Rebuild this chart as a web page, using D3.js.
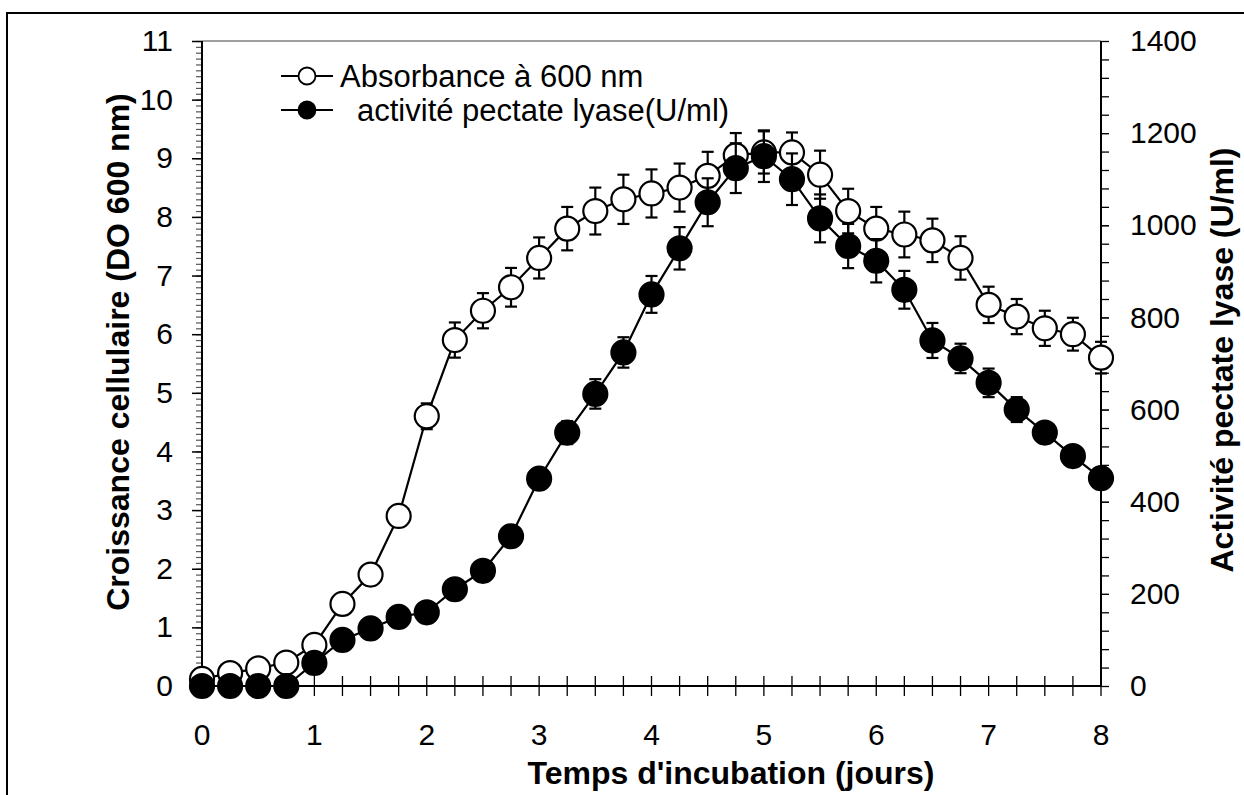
<!DOCTYPE html>
<html>
<head>
<meta charset="utf-8">
<script src="https://cdn.jsdelivr.net/npm/d3@7"></script>
<style>
  body { margin: 0; background: #fff; }
  svg { display: block; font-family: "Liberation Sans", Arial, sans-serif; }
</style>
</head>
<body>
<svg width="1244" height="795"></svg>
<script>
// temps d'incubation (jours), un point toutes les 6 h
const DAYS = [0, 0.25, 0.5, 0.75, 1, 1.25, 1.5, 1.75, 2, 2.25, 2.5, 2.75, 3, 3.25, 3.5, 3.75,
              4, 4.25, 4.5, 4.75, 5, 5.25, 5.5, 5.75, 6, 6.25, 6.5, 6.75, 7, 7.25, 7.5, 7.75, 8];

// absorbance a 600 nm (axe gauche)
const ABSORBANCE = [0.12, 0.22, 0.3, 0.4, 0.7, 1.4, 1.9, 2.9, 4.6, 5.9, 6.4, 6.8, 7.3, 7.8, 8.1, 8.3,
                    8.4, 8.5, 8.7, 9.05, 9.1, 9.1, 8.72, 8.1, 7.8, 7.7, 7.6, 7.3, 6.5, 6.3, 6.1, 6.0, 5.6];
const ABS_ERR = [0.05, 0.05, 0.05, 0.05, 0.08, 0.1, 0.12, 0.15, 0.22, 0.3, 0.3, 0.33, 0.35, 0.37, 0.4, 0.42,
                 0.41, 0.41, 0.41, 0.38, 0.36, 0.34, 0.41, 0.38, 0.37, 0.39, 0.37, 0.37, 0.31, 0.3, 0.3, 0.28, 0.27];

// activite pectate lyase U/ml (axe droit)
const ACTIVITY = [0, 0, 0, 0, 50, 100, 125, 150, 160, 210, 250, 325, 450, 550, 634, 724,
                  850, 950, 1050, 1124, 1150, 1100, 1015, 955, 923, 860, 750, 711, 658, 600, 550, 499, 451];
const ACT_ERR = [0, 0, 0, 0, 8, 10, 12, 12, 12, 15, 15, 18, 20, 25, 32, 33,
                 40, 46, 52, 54, 56, 56, 52, 48, 47, 41, 38, 32, 31, 27, 22, 20, 18];

const X_TICKS = [0, 1, 2, 3, 4, 5, 6, 7, 8];
const YL_TICKS = [0, 1, 2, 3, 4, 5, 6, 7, 8, 9, 10, 11];
const YR_TICKS = [0, 200, 400, 600, 800, 1000, 1200, 1400];

const LEFT = 202, RIGHT = 1101, TOP = 41, BOTTOM = 686;
const FONT = '"Liberation Sans", Arial, sans-serif';
const TICK_FONT = 30;

const svg = d3.select('svg');

const x = d3.scaleLinear().domain([0, 8]).range([LEFT, RIGHT]);
const yL = d3.scaleLinear().domain([0, 11]).range([BOTTOM, TOP]);
const yR = d3.scaleLinear().domain([0, 1400]).range([BOTTOM, TOP]);

// cadre exterieur
svg.append('rect')
    .attr('x', 7).attr('y', 13)
    .attr('width', 1250).attr('height', 800)
    .attr('fill', 'none')
    .attr('stroke', '#000')
    .attr('stroke-width', 2);

// bord haut de la zone de trace
svg.append('line')
    .attr('x1', LEFT).attr('x2', RIGHT)
    .attr('y1', TOP).attr('y2', TOP)
    .attr('stroke', '#808080')
    .attr('stroke-width', 1.5);

// axe gauche : graduations mineures tous les 0.1
const leftAxis = svg.append('g').attr('transform', `translate(${LEFT},0)`);
leftAxis.call(d3.axisLeft(yL).ticks(110).tickSize(6).tickFormat(''))
    .call(g => g.select('.domain').remove())
    .selectAll('line').attr('stroke', '#555').attr('stroke-width', 1.2);
leftAxis.append('g')
    .call(d3.axisLeft(yL).tickValues(YL_TICKS).tickSize(10).tickPadding(19))
    .call(g => g.select('.domain').remove())
    .call(g => g.selectAll('line').attr('stroke', '#000').attr('stroke-width', 1.5))
    .call(g => g.selectAll('text')
        .attr('font-size', TICK_FONT).attr('font-family', FONT).attr('fill', '#000'));
leftAxis.append('line')
    .attr('y1', TOP).attr('y2', BOTTOM)
    .attr('stroke', '#000').attr('stroke-width', 2);

// axe droit : graduations tous les 40
const rightAxis = svg.append('g').attr('transform', `translate(${RIGHT},0)`);
rightAxis.call(d3.axisRight(yR).tickValues(d3.range(0, 1401, 40)).tickSize(8).tickFormat(''))
    .call(g => g.select('.domain').remove())
    .selectAll('line').attr('stroke', '#000').attr('stroke-width', 1.3);
rightAxis.append('g')
    .call(d3.axisRight(yR).tickValues(YR_TICKS).tickSize(8).tickPadding(21).tickFormat(d3.format('d')))
    .call(g => g.select('.domain').remove())
    .call(g => g.selectAll('text')
        .attr('font-size', TICK_FONT).attr('font-family', FONT).attr('fill', '#000'));
rightAxis.append('line')
    .attr('y1', TOP).attr('y2', BOTTOM)
    .attr('stroke', '#000').attr('stroke-width', 2);

// axe du bas : graduations croisees tous les 0.25
const bottomAxis = svg.append('g').attr('transform', `translate(0,${BOTTOM})`);
bottomAxis.selectAll('.xtick')
    .data(d3.range(0, 8.01, 0.25))
    .enter()
    .append('line')
    .classed('xtick', true)
    .attr('x1', d => x(d)).attr('x2', d => x(d))
    .attr('y1', -10).attr('y2', 10)
    .attr('stroke', '#000').attr('stroke-width', 1.3);
bottomAxis.append('line')
    .attr('x1', LEFT).attr('x2', RIGHT)
    .attr('stroke', '#000').attr('stroke-width', 2);
bottomAxis.selectAll('.xlabel')
    .data(X_TICKS)
    .enter()
    .append('text')
    .classed('xlabel', true)
    .attr('x', d => x(d))
    .attr('y', 59)
    .attr('text-anchor', 'middle')
    .attr('font-size', TICK_FONT)
    .text(d => d);

// titres des axes
svg.append('text')
    .attr('x', 731).attr('y', 784)
    .attr('text-anchor', 'middle')
    .attr('font-size', 32).attr('font-weight', 'bold')
    .text("Temps d'incubation (jours)");

svg.append('text')
    .attr('transform', 'translate(129,352) rotate(-90)')
    .attr('text-anchor', 'middle')
    .attr('font-size', 32).attr('font-weight', 'bold')
    .text('Croissance cellulaire (DO 600 nm)');

svg.append('text')
    .attr('transform', 'translate(1233,360) rotate(-90)')
    .attr('text-anchor', 'middle')
    .attr('font-size', 32).attr('font-weight', 'bold')
    .text('Activité pectate lyase (U/ml)');

// series
const absData = DAYS.map((d, i) => ({ day: d, v: ABSORBANCE[i], e: ABS_ERR[i] }));
const actData = DAYS.map((d, i) => ({ day: d, v: ACTIVITY[i], e: ACT_ERR[i] }));

function drawSeries(data, y, fill, cls) {
    const g = svg.append('g').classed(cls, true);

    g.append('path')
        .datum(data)
        .attr('fill', 'none')
        .attr('stroke', '#000')
        .attr('stroke-width', 2.2)
        .attr('d', d3.line().x(d => x(d.day)).y(d => y(d.v)));

    const err = g.selectAll('.err')
        .data(data.filter(d => d.e > 0))
        .enter()
        .append('g')
        .classed('err', true)
        .attr('stroke', '#000')
        .attr('stroke-width', 2.2);
    err.append('line')
        .attr('x1', d => x(d.day)).attr('x2', d => x(d.day))
        .attr('y1', d => y(d.v - d.e)).attr('y2', d => y(d.v + d.e));
    err.append('line')
        .attr('x1', d => x(d.day) - 6).attr('x2', d => x(d.day) + 6)
        .attr('y1', d => y(d.v + d.e)).attr('y2', d => y(d.v + d.e));
    err.append('line')
        .attr('x1', d => x(d.day) - 6).attr('x2', d => x(d.day) + 6)
        .attr('y1', d => y(d.v - d.e)).attr('y2', d => y(d.v - d.e));

    g.selectAll('.dot')
        .data(data)
        .enter()
        .append('circle')
        .classed('dot', true)
        .attr('cx', d => x(d.day))
        .attr('cy', d => y(d.v))
        .attr('r', 12)
        .attr('fill', fill)
        .attr('stroke', '#000')
        .attr('stroke-width', 2.2);
}

drawSeries(absData, yL, '#fff', 'absorbance');
drawSeries(actData, yR, '#000', 'activity');

// legende
const legend = svg.append('g');
const LEGEND = [
    { label: 'Absorbance à 600 nm', fill: '#fff', y: 76, tx: 340 },
    { label: 'activité pectate lyase(U/ml)', fill: '#000', y: 110, tx: 357 }
];
const item = legend.selectAll('g')
    .data(LEGEND)
    .enter()
    .append('g');
item.append('line')
    .attr('x1', 281).attr('x2', 333)
    .attr('y1', d => d.y).attr('y2', d => d.y)
    .attr('stroke', '#000').attr('stroke-width', 2);
item.append('circle')
    .attr('cx', 307).attr('cy', d => d.y).attr('r', 8.5)
    .attr('fill', d => d.fill)
    .attr('stroke', '#000').attr('stroke-width', 1.8);
item.append('text')
    .attr('x', d => d.tx).attr('y', d => d.y + 11)
    .attr('font-size', 31)
    .text(d => d.label);
</script>
</body>
</html>
